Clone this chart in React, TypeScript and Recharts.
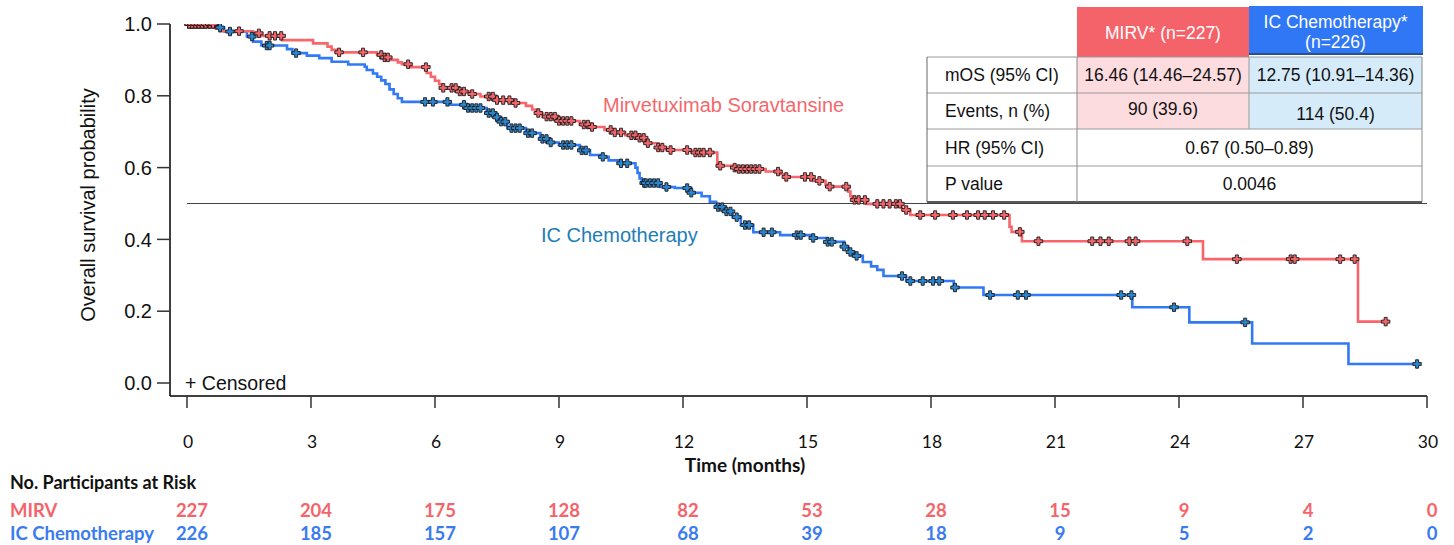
import React from 'react';
import { ComposedChart, Line, Scatter, XAxis, YAxis, ReferenceLine } from 'recharts';

// ---------- data ----------
const timeTicks = [0, 3, 6, 9, 12, 15, 18, 21, 24, 27, 30];
const survTicks = [0, 0.2, 0.4, 0.6, 0.8, 1.0];
const atRiskMirv = [227, 204, 175, 128, 82, 53, 28, 15, 9, 4, 0];
const atRiskIc = [226, 185, 157, 107, 68, 39, 18, 9, 5, 2, 0];

// Kaplan–Meier steps: [time (months), survival after step]
const mirvSteps: [number, number][] = [
  [0, 1.0], [0.7, 0.987], [0.8, 0.98], [1.6, 0.974], [1.8, 0.967], [2.3, 0.955],
  [3.05, 0.946], [3.4, 0.937], [3.5, 0.928], [3.6, 0.921], [4.6, 0.914], [4.75, 0.907],
  [4.9, 0.9], [5.1, 0.893], [5.2, 0.888], [5.4, 0.88], [5.8, 0.864], [5.9, 0.853],
  [6.0, 0.842], [6.1, 0.832], [6.2, 0.822], [6.6, 0.812], [6.9, 0.805], [7.1, 0.798],
  [7.5, 0.788], [7.9, 0.78], [8.2, 0.772], [8.35, 0.762], [8.45, 0.752], [8.6, 0.742],
  [9.0, 0.73], [9.5, 0.72], [9.8, 0.713], [10.1, 0.705], [10.3, 0.698], [10.6, 0.69],
  [10.9, 0.683], [11.1, 0.668], [11.4, 0.656], [11.6, 0.649], [12.2, 0.642], [12.83, 0.605],
  [13.2, 0.6], [13.3, 0.596], [14.0, 0.589], [14.35, 0.582], [14.5, 0.574], [15.15, 0.563],
  [15.45, 0.552], [15.5, 0.547], [16.0, 0.533], [16.05, 0.52], [16.1, 0.51], [16.45, 0.499],
  [17.3, 0.482], [17.5, 0.468], [19.9, 0.435], [19.95, 0.421], [20.2, 0.395], [24.58, 0.345],
  [28.33, 0.171], [29.0, 0.171],
];

const icSteps: [number, number][] = [
  [0, 1.0], [0.72, 0.99], [0.9, 0.979], [1.45, 0.965], [1.6, 0.951], [1.8, 0.94],
  [2.42, 0.93], [2.55, 0.919], [2.9, 0.912], [3.2, 0.905], [3.5, 0.895], [3.9, 0.887],
  [4.3, 0.881], [4.35, 0.872], [4.5, 0.862], [4.6, 0.853], [4.7, 0.843], [4.8, 0.833],
  [4.9, 0.818], [5.0, 0.805], [5.1, 0.793], [5.2, 0.783], [6.35, 0.775], [6.8, 0.766],
  [7.25, 0.752], [7.45, 0.74], [7.6, 0.728], [7.75, 0.71], [8.2, 0.696], [8.55, 0.68],
  [8.75, 0.67], [9.0, 0.663], [9.5, 0.648], [9.75, 0.635], [10.0, 0.63], [10.2, 0.62],
  [10.5, 0.612], [10.85, 0.6], [10.9, 0.585], [10.95, 0.57], [11.0, 0.557], [11.45, 0.546],
  [11.8, 0.543], [12.2, 0.53], [12.45, 0.52], [12.65, 0.505], [12.8, 0.49], [13.0, 0.478],
  [13.2, 0.462], [13.4, 0.44], [13.7, 0.42], [14.35, 0.412], [15.15, 0.404], [15.5, 0.393],
  [15.9, 0.38], [16.0, 0.365], [16.15, 0.354], [16.35, 0.337], [16.55, 0.325], [16.7, 0.315],
  [16.85, 0.298], [17.4, 0.284], [18.55, 0.266], [19.27, 0.245], [22.87, 0.211], [24.25, 0.169],
  [25.77, 0.11], [28.1, 0.053], [29.76, 0.053],
];

// censoring times (months)
const mirvCensorTimes = [
  0.05, 0.12, 0.2, 0.28, 0.36, 0.45, 0.55, 0.63, 1.26, 1.74, 2.0, 2.13, 2.28, 3.68, 4.26,
  4.7, 4.78, 4.86, 5.35, 5.78, 6.2, 6.4, 6.5, 6.6, 6.7, 6.9, 7.3, 7.4, 7.5, 7.65, 7.8, 7.95,
  8.5, 8.7, 8.8, 8.9, 9.0, 9.1, 9.2, 9.3, 9.6, 9.7, 9.8, 10.25, 10.35, 10.5, 10.75, 10.85,
  10.95, 11.05, 11.15, 11.4, 11.5, 11.7, 12.1, 12.3, 12.4, 12.5, 12.65, 12.9, 13.25, 13.35,
  13.45, 13.55, 13.65, 13.75, 13.85, 14.3, 14.5, 14.95, 15.1, 15.3, 15.55, 15.95, 16.15,
  16.25, 16.4, 16.7, 16.85, 17.0, 17.15, 17.25, 17.4, 17.74, 18.1, 18.53, 18.87, 19.14,
  19.3, 19.5, 19.77, 20.15, 20.6, 21.9, 22.1, 22.3, 22.8, 22.95, 24.2, 25.4, 26.7, 26.8,
  27.9, 28.25, 29.0,
];
const icCensorTimes = [
  0.05, 0.1, 0.15, 0.22, 0.3, 0.38, 0.46, 0.55, 0.65, 0.8, 1.04, 1.57, 1.93, 2.0, 2.64,
  5.76, 5.95, 6.3, 6.7, 6.8, 6.9, 7.0, 7.1, 7.3, 7.4, 7.5, 7.6, 7.7, 7.85, 7.95, 8.05,
  8.25, 8.35, 8.6, 8.7, 8.8, 9.1, 9.2, 9.3, 9.55, 9.65, 10.06, 10.5, 10.65, 11.06, 11.1,
  11.2, 11.3, 11.4, 11.6, 12.1, 12.2, 12.85, 12.95, 13.05, 13.15, 13.3, 13.5, 13.6, 13.95,
  14.15, 14.75, 14.85, 15.15, 15.5, 15.6, 15.9, 16.05, 16.2, 17.3, 17.5, 17.8, 18.05, 18.2,
  18.58, 19.43, 20.1, 20.3, 22.6, 22.85, 23.88, 25.6, 29.76,
];

// ---------- helpers ----------
const survAt = (steps: [number, number][], t: number) => {
  let s = steps[0][1];
  for (const [st, sv] of steps) {
    if (st <= t + 1e-9) s = sv;
    else break;
  }
  return s;
};
const toRows = (steps: [number, number][]) => steps.map(([t, s]) => ({ t, s }));
const censorRows = (steps: [number, number][], times: number[]) =>
  times.map((t) => ({ t, s: survAt(steps, t) }));

const mirvLine = toRows(mirvSteps);
const icLine = toRows(icSteps);
const mirvCens = censorRows(mirvSteps, mirvCensorTimes);
const icCens = censorRows(icSteps, icCensorTimes);

const RED = '#F8656A';
const BLUE = '#3279F5';
const RED_TXT = '#F4646A';
const BLUE_TXT = '#3A7BF0';
const CAL = 'Lato, "Open Sans", sans-serif';
const HEL = '"Liberation Sans", Arial, sans-serif';

const Plus = (fill: string) => (props: any) => {
  const { cx, cy } = props;
  if (cx == null || cy == null) return null;
  const a = 4.2;
  const b = 1.5;
  const d = `M${cx - b},${cy - a}H${cx + b}V${cy - b}H${cx + a}V${cy + b}H${cx + b}V${cy + a}H${cx - b}V${cy + b}H${cx - a}V${cy - b}H${cx - b}Z`;
  return <path d={d} fill={fill} stroke="#1a1a1a" strokeWidth={0.9} />;
};

const TimeTick = (props: any) => {
  const { x, y, payload, index } = props;
  const i = index ?? timeTicks.indexOf(payload.value);
  return (
    <g>
      <text x={x + 1} y={y + 40} textAnchor="middle" fontFamily={CAL} fontSize={17.5} fill="#111">
        {payload.value}
      </text>
      <text x={x + 5} y={y + 109} textAnchor="middle" fontFamily={CAL} fontWeight={700} fontSize={18.5} fill={RED_TXT}>
        {atRiskMirv[i]}
      </text>
      <text x={x + 5} y={y + 132} textAnchor="middle" fontFamily={CAL} fontWeight={700} fontSize={18.5} fill={BLUE_TXT}>
        {atRiskIc[i]}
      </text>
    </g>
  );
};

// ---------- table ----------
const tableRows = [
  { label: 'mOS (95% CI)', a: '16.46 (14.46–24.57)', b: '12.75 (10.91–14.36)' },
  { label: 'Events, n (%)', a: '90 (39.6)', b: '114 (50.4)' },
  { label: 'HR (95% CI)', a: '0.67 (0.50–0.89)', b: null },
  { label: 'P value', a: '0.0046', b: null },
];

const Table = () => {
  const x0 = 927, x1 = 1077, x2 = 1249, x3 = 1422;
  const ys = [57, 93, 129, 166, 202];
  return (
    <g fontFamily={HEL} fontSize={17.5} fill="#111">
      <rect x={x1} y={7} width={x2 - x1} height={50} fill="#F4636A" />
      <rect x={x2} y={6} width={x3 - x2 + 1} height={47} fill="#3077F6" />
      <line x1={x2} x2={x3 + 1} y1={54} y2={54} stroke="#27518f" strokeWidth={2} />
      <text x={(x1 + x2) / 2} y={39} textAnchor="middle" fill="#fff" fontSize={17.5}>MIRV* (n=227)</text>
      <text x={(x2 + x3) / 2} y={28} textAnchor="middle" fill="#fff" fontSize={17.5}>IC Chemotherapy*</text>
      <text x={(x2 + x3) / 2} y={48} textAnchor="middle" fill="#fff" fontSize={17.5}>(n=226)</text>
      <rect x={x0} y={ys[0]} width={x3 - x0} height={ys[4] - ys[0]} fill="#fff" />
      <rect x={x1} y={ys[0]} width={x2 - x1} height={ys[2] - ys[0]} fill="#FDDCDF" />
      <rect x={x2} y={ys[0]} width={x3 - x2} height={ys[2] - ys[0]} fill="#D6EBFA" />
      {ys.slice(0, 4).map((y, i) => (
        <line key={i} x1={x0} x2={x3} y1={y} y2={y} stroke="#9a9a9a" strokeWidth={1} />
      ))}
      <line x1={x0} x2={x3} y1={ys[4]} y2={ys[4]} stroke="#222" strokeWidth={1.6} />
      <line x1={x0} x2={x0} y1={ys[0]} y2={ys[4]} stroke="#666" strokeWidth={1} />
      <line x1={x3} x2={x3} y1={ys[0]} y2={ys[4]} stroke="#888" strokeWidth={1} />
      <line x1={x1} x2={x1} y1={ys[0]} y2={ys[4]} stroke="#888" strokeWidth={1} />
      <line x1={x2} x2={x2} y1={ys[0]} y2={ys[2]} stroke="#9a9a9a" strokeWidth={1} />
      {tableRows.map((r, i) => {
        const cy = (ys[i] + ys[i + 1]) / 2 + 6;
        return (
          <g key={r.label}>
            <text x={945} y={cy}>{r.label}</text>
            {r.b !== null ? (
              <>
                <text x={(x1 + x2) / 2} y={i === 1 ? cy - 2 : cy} textAnchor="middle">{r.a}</text>
                <text x={(x2 + x3) / 2} y={i === 1 ? cy + 3 : cy} textAnchor="middle">{r.b}</text>
              </>
            ) : (
              <text x={(x1 + x3) / 2} y={cy} textAnchor="middle">{r.a}</text>
            )}
          </g>
        );
      })}
    </g>
  );
};

export default function App() {
  const W = 1454;
  const H = 545;
  const yAxisW = 80;
  const xAxisH = 60;
  return (
    <div style={{ position: 'absolute', left: 0, top: 0, width: W, height: H, background: '#fff' }}>
      <ComposedChart
        width={W}
        height={H}
        margin={{ top: 24, right: 27, left: 170 - yAxisW, bottom: H - 396 - xAxisH }}
      >
        <XAxis
          type="number"
          dataKey="t"
          domain={[-0.411, 30]}
          ticks={timeTicks}
          allowDataOverflow
          height={xAxisH}
          tickSize={12}
          tickMargin={0}
          axisLine={{ stroke: '#000', strokeWidth: 1.5 }}
          tickLine={{ stroke: '#333', strokeWidth: 1.5 }}
          tick={<TimeTick />}
          interval={0}
        />
        <YAxis
          type="number"
          dataKey="s"
          domain={[-0.0362, 1]}
          ticks={survTicks}
          allowDataOverflow
          width={yAxisW}
          tickSize={13}
          tickMargin={5}
          axisLine={{ stroke: '#000', strokeWidth: 1.5 }}
          tickLine={{ stroke: '#333', strokeWidth: 1.5 }}
          tickFormatter={(v: number) => v.toFixed(1)}
          tick={{ fontFamily: HEL, fontSize: 20, fill: '#111' }}
          interval={0}
        />
        <ReferenceLine
          segment={[{ x: 0, y: 0.5 }, { x: 30, y: 0.5 }]}
          stroke="#444"
          strokeWidth={1}
          ifOverflow="visible"
        />
        <Line
          data={icLine}
          dataKey="s"
          type="stepAfter"
          stroke={BLUE}
          strokeWidth={2.6}
          dot={false}
          activeDot={false}
          isAnimationActive={false}
        />
        <Line
          data={mirvLine}
          dataKey="s"
          type="stepAfter"
          stroke={RED}
          strokeWidth={2.6}
          dot={false}
          activeDot={false}
          isAnimationActive={false}
        />
        <Scatter data={icCens} dataKey="s" shape={Plus('#2a86cf')} isAnimationActive={false} />
        <Scatter data={mirvCens} dataKey="s" shape={Plus('#F2666B')} isAnimationActive={false} />
      </ComposedChart>
      <svg width={W} height={H} style={{ position: 'absolute', left: 0, top: 0, pointerEvents: 'none' }}>
        <text
          transform="translate(95,205) rotate(-90)"
          textAnchor="middle"
          fontFamily={HEL}
          fontSize={20}
          fill="#111"
        >
          Overall survival probability
        </text>
        <text x={603} y={112} fontFamily={HEL} fontSize={20} fill="#F4686C">Mirvetuximab Soravtansine</text>
        <text x={541} y={242} fontFamily={HEL} fontSize={20} fill="#1D7DB8">IC Chemotherapy</text>
        <text x={185} y={390} fontFamily={HEL} fontSize={19.5} fill="#111">+ Censored</text>
        <text x={745} y={472} textAnchor="middle" fontFamily={CAL} fontWeight={700} fontSize={19} fill="#111">
          Time (months)
        </text>
        <text x={10} y={489} fontFamily={CAL} fontWeight={700} fontSize={18} fill="#111">No. Participants at Risk</text>
        <text x={10} y={517} fontFamily={CAL} fontWeight={700} fontSize={18.5} fill={RED_TXT}>MIRV</text>
        <text x={10} y={540} fontFamily={CAL} fontWeight={700} fontSize={18.5} fill={BLUE_TXT}>IC Chemotherapy</text>
        <Table />
      </svg>
    </div>
  );
}
